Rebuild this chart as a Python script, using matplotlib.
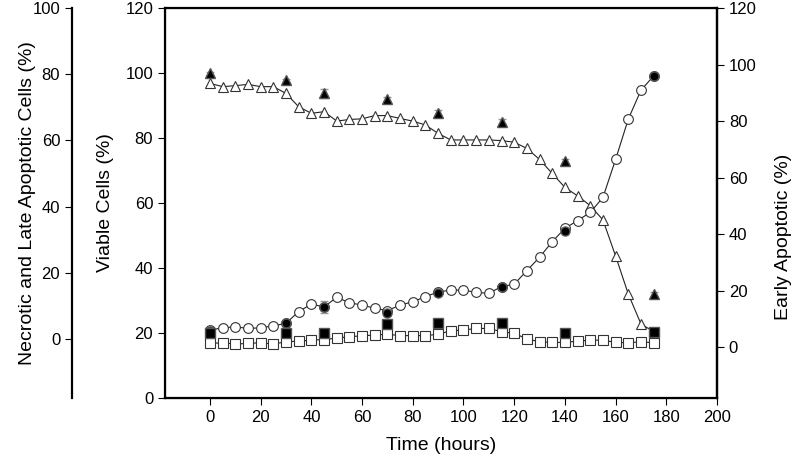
import numpy as np
import matplotlib
matplotlib.use("Agg")
import matplotlib.pyplot as plt

plt.rcParams['font.family'] = ['Liberation Sans', 'DejaVu Sans']

# time course (open symbols, every 5 h) - values read in main-axis units
t_open = np.arange(0, 180, 5)
viable_open = [96.8, 95.8, 96.1, 96.5, 95.8, 95.8, 93.7, 89.6, 87.6, 88.1,
               85.2, 85.7, 85.9, 86.9, 86.9, 86.0, 85.2, 84.0, 81.4, 79.4,
               79.4, 79.4, 79.4, 79.2, 78.7, 76.8, 73.4, 69.1, 64.8, 62.2,
               59.2, 54.8, 43.7, 32.0, 22.8, 20.4]
circ_open = [20.9, 21.6, 21.9, 21.4, 21.6, 22.2, 23.0, 26.6, 28.9, 28.0,
             31.0, 29.3, 28.6, 27.6, 26.9, 28.6, 29.6, 31.2, 32.6, 33.2,
             33.2, 32.5, 32.2, 34.3, 35.0, 39.2, 43.3, 48.1, 52.2, 54.6,
             57.1, 61.7, 73.4, 85.8, 94.7, 99.1]
sq_open = [16.8, 17.0, 16.6, 16.8, 17.0, 16.6, 17.3, 17.5, 17.8, 18.0,
           18.4, 18.9, 19.1, 19.4, 19.6, 19.2, 19.2, 19.2, 19.6, 20.7,
           20.9, 21.4, 21.4, 20.4, 19.9, 18.2, 17.3, 17.1, 17.1, 17.5,
           17.8, 17.8, 17.1, 17.0, 17.3, 17.0]

# reference measurements (filled symbols)
t_fill = [0, 30, 45, 70, 90, 115, 140, 175]
tri_fill = [99.9, 97.8, 93.7, 92.0, 87.6, 85.0, 72.9, 32.0]
tri_err = [0.5, 0.5, 1.5, 0.5, 1.0, 0.7, 0.5, 0.5]
circ_fill = [20.7, 23.0, 27.9, 26.2, 32.2, 34.3, 51.5, 99.1]
circ_err = [0.8, 0.5, 1.8, 0.5, 0.5, 0.5, 0.5, 0.5]
sq_fill = [19.9, 19.9, 19.9, 22.7, 23.0, 23.0, 20.1, 20.4]
sq_err = [0.8, 0.8, 0.5, 0.5, 0.5, 0.8, 0.5, 0.5]

FS_LAB = 14
FS_TICK = 12

fig = plt.figure(figsize=(7.94, 4.65), dpi=100)
ax = fig.add_axes([165/794, 1-398/465, 552/794, 390/465])

ms = 7.5
ax.plot(t_open, viable_open, '-', color='#222222', lw=0.8, marker='^',
        ms=ms, mfc='white', mec='#333333', mew=0.8, zorder=3)
ax.plot(t_open, circ_open, '-', color='#222222', lw=0.8, marker='o',
        ms=ms-0.5, mfc='white', mec='#333333', mew=0.8, zorder=3)
ax.plot(t_open, sq_open, '-', color='#222222', lw=0.8, marker='s',
        ms=ms-0.5, mfc='white', mec='#333333', mew=0.8, zorder=3)

for y, e, m in [(tri_fill, tri_err, '^'), (circ_fill, circ_err, 'o'),
                (sq_fill, sq_err, 's')]:
    ax.errorbar(t_fill, y, yerr=e, fmt=m, ms=6.5, color='black', mec='#555555',
                ecolor='#999999', elinewidth=0.8, capsize=3, zorder=4)

ax.set_xlim(-17.75, 200)
ax.set_ylim(0, 120)
ax.set_xticks(np.arange(0, 201, 20))
ax.set_yticks(np.arange(0, 121, 20))
ax.set_xlabel('Time (hours)', fontsize=FS_LAB, va='center')
ax.set_ylabel('Viable Cells (%)', fontsize=FS_LAB, va='center')
ax.yaxis.set_label_coords((105-165)/552, 0.5)
ax.xaxis.set_label_coords(0.5, -(445-398)/390)
for s in ax.spines.values():
    s.set_linewidth(1.6)
ax.tick_params(direction='out', length=5, width=0.8, labelsize=FS_TICK)

# right axis: early apoptotic
axr = ax.twinx()
axr.set_ylim(-18.05, 120)
axr.set_yticks(np.arange(0, 121, 20))
axr.spines['right'].set_linewidth(1.6)
axr.tick_params(direction='out', length=5, width=0.8, labelsize=FS_TICK)
axr.set_ylabel('Early Apoptotic (%)', fontsize=FS_LAB, va='center',
               rotation=90)
axr.yaxis.set_label_coords((784-165)/552, 1-(237-8)/390)

# far left axis: necrotic and late apoptotic
axl = ax.twinx()
axl.spines['left'].set_position(('axes', (72-165)/552))
axl.spines['left'].set_visible(True)
axl.spines['left'].set_linewidth(1.6)
for k in ['right', 'top', 'bottom']:
    axl.spines[k].set_visible(False)
axl.yaxis.set_ticks_position('left')
axl.yaxis.set_label_position('left')
axl.set_ylim(-17.8, 100)
axl.set_yticks(np.arange(0, 101, 20))
axl.tick_params(direction='out', length=5, width=0.8, labelsize=FS_TICK)
axl.set_ylabel('Necrotic and Late Apoptotic Cells (%)', fontsize=FS_LAB,
               va='center')
axl.yaxis.set_label_coords((28-165)/552, 0.5)

fig.savefig('out.png', dpi=100)
